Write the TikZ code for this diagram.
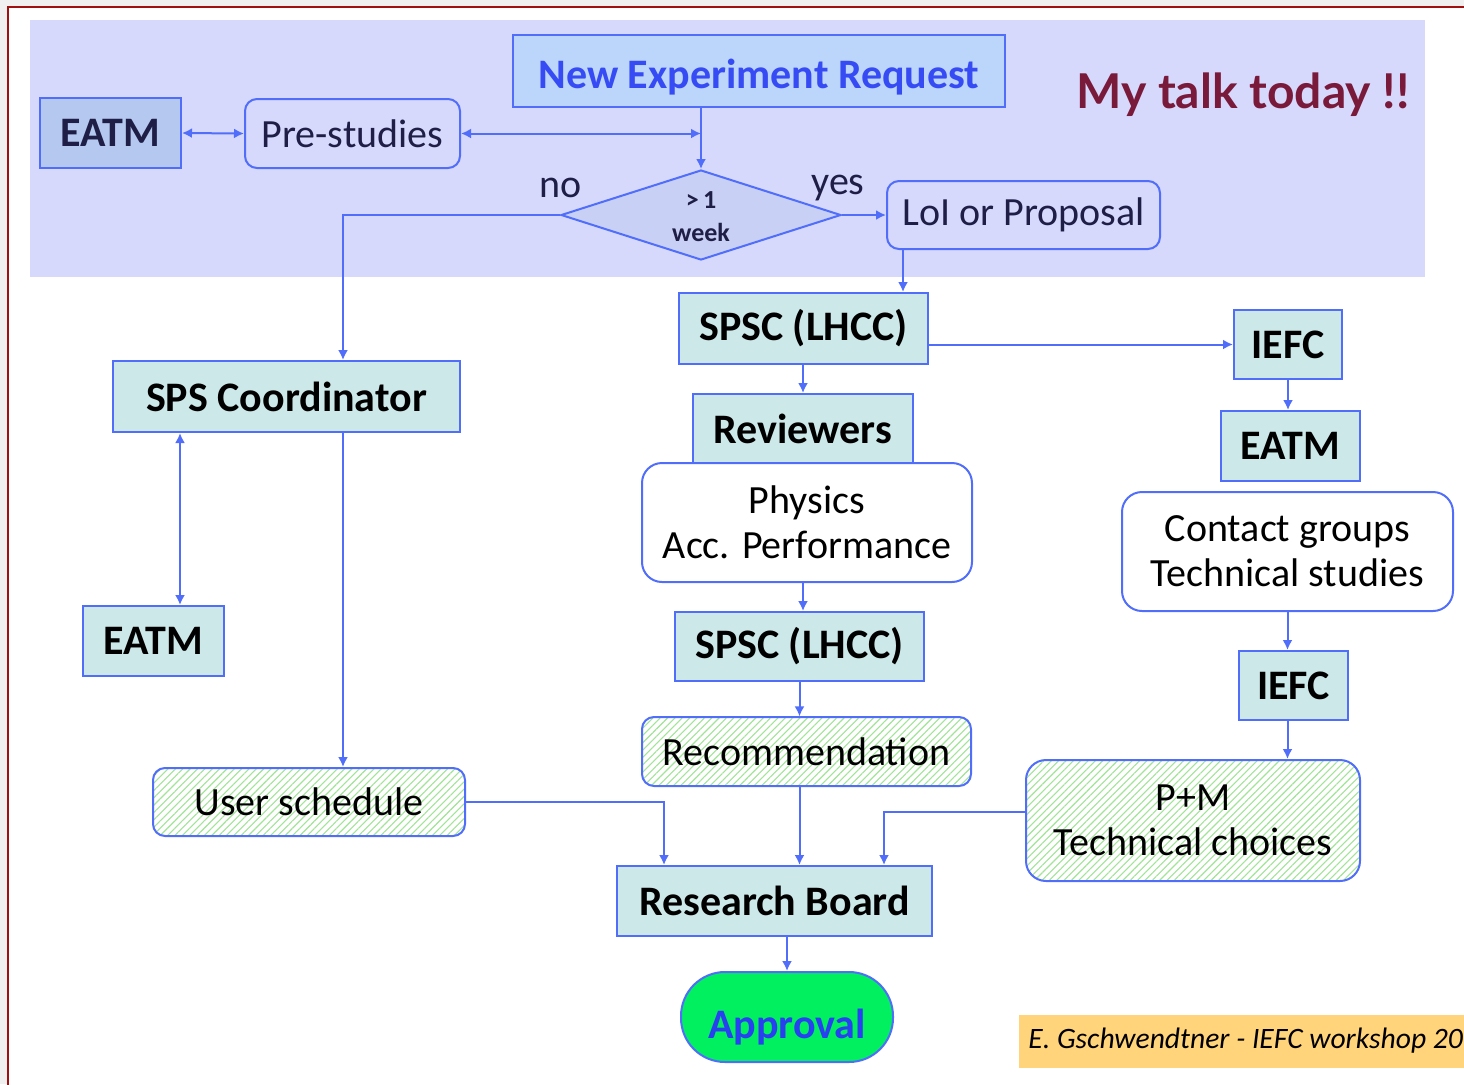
\documentclass[tikz,border=0pt]{standalone}
\usepackage{fontspec}
\setmainfont{Carlito}
\newfontfamily\gillfont{Lato}
\usetikzlibrary{arrows.meta,shapes.geometric,patterns.meta}
\definecolor{lineblue}{RGB}{80,110,250}
\definecolor{panelblue}{RGB}{214,216,252}
\definecolor{eatmfill}{RGB}{181,201,240}
\definecolor{nerfill}{RGB}{187,214,250}
\definecolor{tealfill}{RGB}{205,232,233}
\definecolor{diafill}{RGB}{201,208,245}
\definecolor{navytext}{RGB}{30,30,70}
\definecolor{nertext}{RGB}{55,75,245}
\definecolor{apprgreen}{RGB}{0,240,96}
\definecolor{apprtext}{RGB}{40,64,240}
\definecolor{maroon}{RGB}{122,26,58}
\definecolor{footerfill}{RGB}{255,212,122}
\definecolor{hatchgreen}{RGB}{160,228,150}
\definecolor{framered}{RGB}{160,16,16}
\begin{document}
\begin{tikzpicture}[x=0.5pt,y=-0.5pt,
  conn/.style={draw=lineblue,line width=1pt},
  arr/.style={conn,-{Latex[length=5pt,width=5pt]}},
  darr/.style={conn,{Latex[length=5pt,width=5pt]}-{Latex[length=5pt,width=5pt]}},
  boxbase/.style={draw=lineblue,line width=1pt,inner sep=0pt,align=center},
  tealbox/.style={boxbase,fill=tealfill,font=\fontsize{21}{24}\selectfont\bfseries},
  roundbox/.style={boxbase,rounded corners=6pt,font=\fontsize{20}{23}\selectfont},
  whitebox/.style={roundbox,fill=white,rounded corners=10pt,font=\fontsize{20}{22.5}\selectfont},
  hatchbox/.style={roundbox,preaction={fill=white},pattern={Lines[angle=45,distance=2.6pt,line width=0.55pt]},pattern color=hatchgreen},
]
\useasboundingbox (0,0) rectangle (1464,1084);
% frame
\fill[gray!12] (0,0) rectangle (1464,7);
\fill[gray!12] (0,0) rectangle (8,1084);
\draw[framered,line width=1.2pt] (8,1090) -- (8,7) -- (1470,7);
% panel
\fill[panelblue] (30,20) rectangle (1425,277);

% nodes
\node[boxbase,fill=eatmfill,text=navytext,font=\fontsize{21}{24}\selectfont\bfseries,minimum width=70.5pt,minimum height=35pt] (eatmA) at (110.5,133) {EATM};
\node[roundbox,text=navytext,minimum width=107.5pt,minimum height=34.5pt] (pre) at (352.5,133.5) {Pre-studies};
\node[boxbase,fill=nerfill,text=nertext,font=\fontsize{21}{24}\selectfont\bfseries,minimum width=246pt,minimum height=36pt,text depth=0pt,text height=17pt] (ner) at (759,71) {New Experiment Request};
\node[diamond,draw=lineblue,line width=1pt,fill=diafill,inner sep=0pt,minimum width=140pt,minimum height=45pt] (dia) at (701,215) {};
\node[align=center,text=navytext,font=\fontsize{13}{16.5}\selectfont\bfseries] (diatext) at (701,217) {>\,1\\week};
\node[font=\fontsize{20}{23}\selectfont,text=navytext] (nolab) at (561,188) {no};
\node[font=\fontsize{20}{23}\selectfont,text=navytext] (yeslab) at (838,188) {yes};
\node[roundbox,text=navytext,minimum width=136.5pt,minimum height=34pt] (loi) at (1023.5,215) {LoI or Proposal};
\node[font=\gillfont\fontsize{24}{28}\selectfont\bfseries,text=maroon] (talk) at (1243,95) {My talk today !!};

\node[tealbox,minimum width=124.5pt,minimum height=35.5pt] (spsc1) at (803.5,328.5) {SPSC (LHCC)};
\node[tealbox,minimum width=54pt,minimum height=34.5pt] (iefc1) at (1288,344.5) {IEFC};
\node[tealbox,minimum width=110pt,minimum height=34.5pt] (rev) at (803,428.5) {Reviewers};
\node[whitebox,minimum width=165pt,minimum height=59.5pt] (phys) at (807,522.5) {Physics\\Acc. Performance};
\node[tealbox,minimum width=69.5pt,minimum height=35pt] (eatmR) at (1290.5,446) {EATM};
\node[whitebox,minimum width=165.5pt,minimum height=59.5pt] (contact) at (1287.5,551.5) {Contact groups\\Technical studies};
\node[tealbox,minimum width=173.5pt,minimum height=35.5pt] (spsco) at (286.5,396.5) {SPS Coordinator};
\node[tealbox,minimum width=70.5pt,minimum height=35pt] (eatmL) at (153.5,641) {EATM};
\node[tealbox,minimum width=124.5pt,minimum height=34.5pt] (spsc2) at (799.5,646.5) {SPSC (LHCC)};
\node[tealbox,minimum width=54.5pt,minimum height=34.5pt] (iefc2) at (1293.5,685.5) {IEFC};
\node[hatchbox,minimum width=164.5pt,minimum height=34.5pt] (rec) at (806.5,751.5) {Recommendation};
\node[hatchbox,minimum width=156pt,minimum height=34pt] (user) at (309,802) {User schedule};
\node[hatchbox,rounded corners=10pt,minimum width=167pt,minimum height=60.5pt,font=\fontsize{20}{22.5}\selectfont] (pm) at (1193,820.5) {P+M\\Technical choices};
\node[tealbox,minimum width=157.5pt,minimum height=35pt] (rb) at (774.5,901) {Research Board};
\node[boxbase,fill=apprgreen,text=apprtext,rounded corners=22pt,font=\fontsize{21}{24}\selectfont\bfseries,minimum width=106pt,minimum height=45pt,text depth=0pt,text height=21pt] (appr) at (787,1017) {Approval};

% footer
\fill[footerfill] (1019,1015) rectangle (1464,1068);
\node[anchor=west,inner sep=0pt,font=\fontsize{14.8}{18}\selectfont\itshape] (foot) at (1028,1041) {E. Gschwendtner - IEFC workshop 20};

% connectors
\draw[darr] (eatmA.east) -- (pre.west);
\draw[arr] (ner.south -| dia.north) -- (dia.north);
\draw[darr] (pre.east) -- (pre.east -| dia.north);
\draw[arr] (dia.west) -| ([xshift=28.25pt]spsco.north);
\draw[arr] (dia.east) -- (loi.west);
\draw[arr] ([xshift=-60.25pt]loi.south) -- ([xshift=-60.25pt]loi.south |- spsc1.north);
\draw[arr] (spsc1.east |- iefc1.west) -- (iefc1.west);
\draw[arr] (spsc1.south -| rev.north) -- (rev.north);
\draw[arr] (iefc1.south) -- (iefc1.south |- eatmR.north);
\draw[arr] (rev.south |- phys.south) -- (rev.south |- spsc2.north);
\draw[arr] (contact.south) -- (contact.south |- iefc2.north);
\draw[arr] (spsc2.south) -- (spsc2.south |- rec.north);
\draw[arr] (contact.south |- iefc2.south) -- (contact.south |- pm.north);
\draw[darr] ([xshift=34pt]spsco.south west) -- ([xshift=34pt]spsco.south west |- eatmL.north);
\draw[arr] ([xshift=28.25pt]spsco.south) -- ([xshift=28.25pt]spsco.south |- user.north);
\draw[arr] (user.east) -| ([xshift=24pt]rb.north west);
\draw[arr] (spsc2.south |- rec.south) -- (spsc2.south |- rb.north);
\draw[arr] ([yshift=4.25pt]pm.west) -| ([xshift=-24.5pt]rb.north east);
\draw[arr] (rb.south -| appr.north) -- (appr.north);
\end{tikzpicture}
\end{document}
